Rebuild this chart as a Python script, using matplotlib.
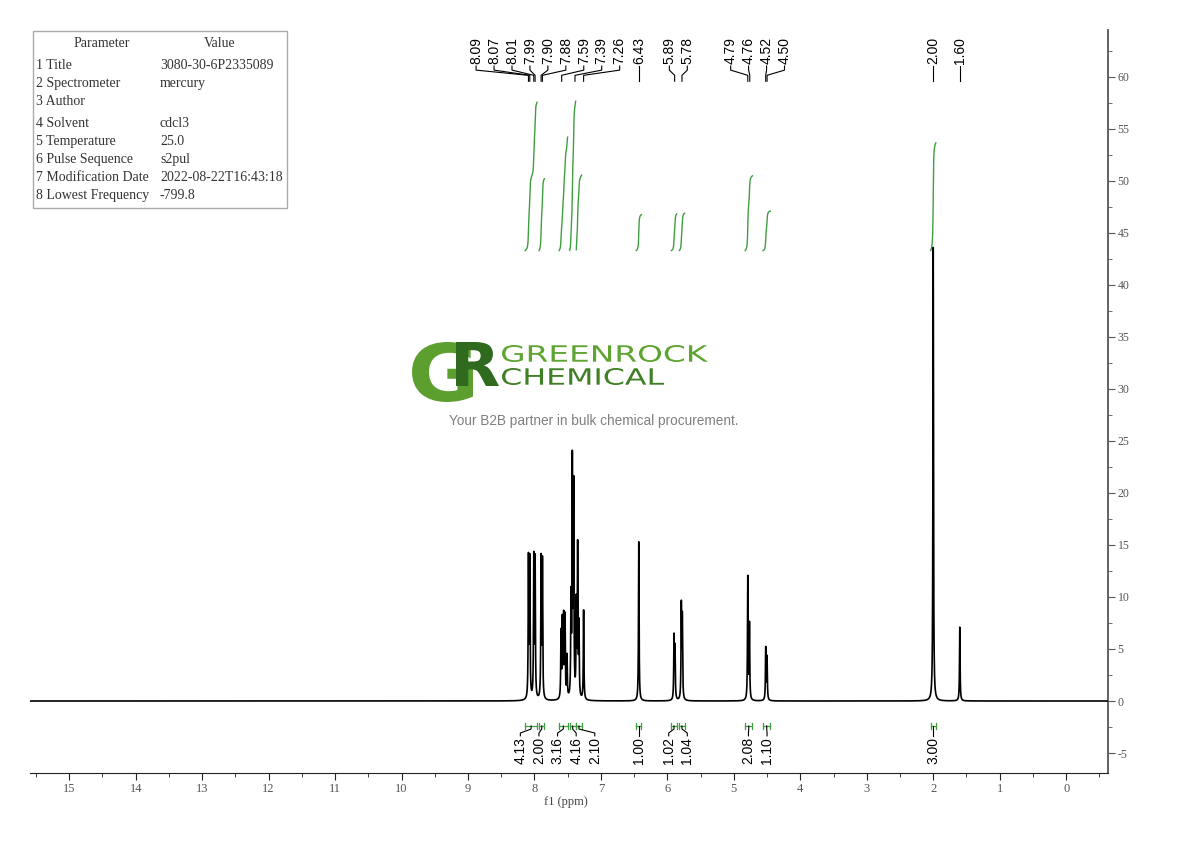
"""1H NMR spectrum (mercury, CDCl3) with peak picks, integrals and parameter table."""
import numpy as np
import matplotlib
matplotlib.use("Agg")
import matplotlib.pyplot as plt
from matplotlib.textpath import TextPath
from matplotlib.patches import PathPatch
from matplotlib.font_manager import FontProperties
from matplotlib.transforms import Affine2D
from matplotlib.ticker import MultipleLocator

plt.rcParams["axes.unicode_minus"] = False

# ---- data ----
peak_ppm = [8.09, 8.07, 8.01, 7.99, 7.90, 7.88, 7.60, 7.58, 7.56, 7.54, 7.51,
            7.45, 7.43, 7.41, 7.37, 7.35, 7.33, 7.26, 6.43, 5.90, 5.885, 5.79, 5.775,
            4.79, 4.765, 4.52, 4.50, 2.00, 1.60]
peak_height = [13.4, 13.2, 13.4, 13.2, 13.3, 13.1, 6.3, 7.3, 7.6, 7.7, 4.0,
               9.2, 22.2, 19.9, 8.8, 14.3, 6.8, 8.6, 15.3, 6.0, 4.9, 8.9, 7.7,
               11.8, 7.2, 5.0, 4.1, 43.6, 7.1]
pick_labels = [8.09, 8.07, 8.01, 7.99, 7.90, 7.88, 7.59, 7.39, 7.26, 6.43,
               5.89, 5.78, 4.79, 4.76, 4.52, 4.50, 2.00, 1.60]
int_hi = [8.14, 7.93, 7.63, 7.47, 7.37, 6.47, 5.94, 5.82, 4.83, 4.56, 2.04]
int_lo = [7.96, 7.85, 7.50, 7.38, 7.29, 6.39, 5.86, 5.74, 4.72, 4.45, 1.96]
int_val = [4.13, 2.00, 3.16, 4.16, 2.10, 1.00, 1.02, 1.04, 2.08, 1.10, 3.00]
params = ["Title", "Spectrometer", "Author", "Solvent", "Temperature",
          "Pulse Sequence", "Modification Date", "Lowest Frequency"]
values = ["3080-30-6P2335089", "mercury", "", "cdcl3", "25.0", "s2pul",
          "2022-08-22T16:43:18", "-799.8"]

GREEN = "#3f9e3f"
W = 0.005  # lorentzian half width (ppm)

ppm = np.linspace(15.7, -0.7, 40000)
spec = np.zeros_like(ppm)
for p, h in zip(peak_ppm, peak_height):
    spec += h / (1 + ((ppm - p) / W) ** 2)


def spread(targets, gap):
    """centre overlapping label groups on their targets (targets descending)."""
    groups = [[i] for i in range(len(targets))]
    while True:
        pos = []
        for g in groups:
            c = np.mean([targets[i] for i in g])
            n = len(g)
            pos.append([c + gap * ((n - 1) / 2 - k) for k in range(n)])
        merged = False
        for k in range(len(groups) - 1):
            if pos[k][-1] - pos[k + 1][0] < gap:
                groups[k] = groups[k] + groups.pop(k + 1)
                merged = True
                break
        if not merged:
            return [x for ps in pos for x in ps]


fig = plt.figure(figsize=(11.9, 8.41), dpi=100)
ax = fig.add_axes([30 / 1190, 68 / 841, 1078 / 1190, 743 / 841])
ax.set_facecolor("none")
ax.plot(ppm, spec, color="black", lw=1.2, zorder=3)
ax.set_xlim(15.59, -0.63)
ax.set_ylim(-6.92, 64.5)

for s in ("top", "left"):
    ax.spines[s].set_visible(False)
ax.spines["bottom"].set_color("#222222")
ax.spines["right"].set_color("#555555")
ax.spines["right"].set_linewidth(1.3)
ax.yaxis.tick_right()
ax.xaxis.set_major_locator(MultipleLocator(1))
ax.xaxis.set_minor_locator(MultipleLocator(0.5))
ax.yaxis.set_major_locator(MultipleLocator(5))
ax.yaxis.set_minor_locator(MultipleLocator(2.5))
ax.tick_params(axis="x", which="major", length=5, color="#222222", labelsize=9,
               labelcolor="#555555", pad=2)
ax.tick_params(axis="x", which="minor", length=3, color="#222222")
ax.tick_params(axis="y", which="major", length=5, color="#555555", labelsize=8.5,
               labelcolor="#555555", pad=2)
ax.tick_params(axis="y", which="minor", length=3, color="#555555")
for t in ax.get_xticklabels() + ax.get_yticklabels():
    t.set_fontfamily("Liberation Serif")

tr = ax.get_xaxis_transform()

# integral curves and brackets
base, scale = 43.3, 3.45
for hi, lo, v in zip(int_hi, int_lo, int_val):
    m = (ppm <= hi) & (ppm >= lo)
    cum = np.cumsum(spec[m])
    ax.plot(ppm[m], base + cum / cum[-1] * v * scale, color=GREEN, lw=1.0, zorder=2)
    ax.plot([hi, lo], [0.0633, 0.0633], color=GREEN, lw=0.9, transform=tr)
    for e in (hi, lo):
        ax.plot([e, e], [0.0593, 0.0673], color=GREEN, lw=0.9, transform=tr)

int_mid = [(h + l) / 2 for h, l in zip(int_hi, int_lo)]
for c, q, v in zip(int_mid, spread(int_mid, 0.28), int_val):
    ax.plot([c, c, q, q], [0.0633, 0.0592, 0.0538, 0.0500], color="black", lw=0.8,
            transform=tr)
    ax.text(q, 0.0485, f"{v:.2f}", rotation=90, ha="center", va="top", fontsize=10,
            family="Liberation Sans", transform=tr)

# peak picking labels
for p, q in zip(pick_labels, spread(pick_labels, 0.27)):
    ax.plot([q, q, p, p], [0.9515, 0.9460, 0.9390, 0.9310], color="black", lw=0.8,
            transform=tr)
    ax.text(q, 0.9543, f"{p:.2f}", rotation=90, ha="center", va="bottom", fontsize=10,
            family="Liberation Sans", transform=tr)

# overlay in pixel coordinates for table and watermark
ov = fig.add_axes([0, 0, 1, 1], zorder=-1)
ov.set_xlim(0, 1190)
ov.set_ylim(841, 0)
ov.axis("off")

ov.add_patch(plt.Rectangle((33, 31), 254, 177, fill=False, ec="#aaaaaa", lw=1))
tkw = dict(fontsize=10, family="Liberation Serif", color="#333333", va="center")
ov.text(102, 43, "Parameter", ha="center", **tkw)
ov.text(220, 43, "Value", ha="center", **tkw)
row_y = [65, 83, 101, 123, 141, 159, 177, 195]
for i, (y, pname, val) in enumerate(zip(row_y, params, values)):
    ov.text(36, y, f"{i + 1} {pname}", ha="left", **tkw)
    ov.text(160, y, val, ha="left", **tkw)


def logo_text(s, x0, y0, x1, y1, color, weight="bold"):
    path = TextPath((0, 0), s, size=100, prop=FontProperties(family="DejaVu Sans", weight=weight))
    ext = path.get_extents()
    t = (Affine2D().translate(-ext.x0, -ext.y0)
         .scale((x1 - x0) / ext.width, -(y1 - y0) / ext.height)
         .translate(x0, y1))
    ov.add_patch(PathPatch(t.transform_path(path), fc=color, ec="none"))


logo_text("G", 412, 342, 473, 402, "#5d9f2f")
logo_text("R", 456, 342, 499, 386, "#2f6a1f")
logo_text("GREENROCK", 502, 345, 708, 362, "#5da431", weight="normal")
logo_text("CHEMICAL", 502, 368, 664, 385, "#3f7f25", weight="normal")
ov.text(594, 421, "Your B2B partner in bulk chemical procurement.", ha="center",
        va="center", fontsize=9.8, family="Liberation Sans", color="#808080")
ov.text(566, 802, "f1 (ppm)", ha="center", va="center", fontsize=9,
        family="Liberation Serif", color="#444444")

fig.savefig("out.png", dpi=100)
